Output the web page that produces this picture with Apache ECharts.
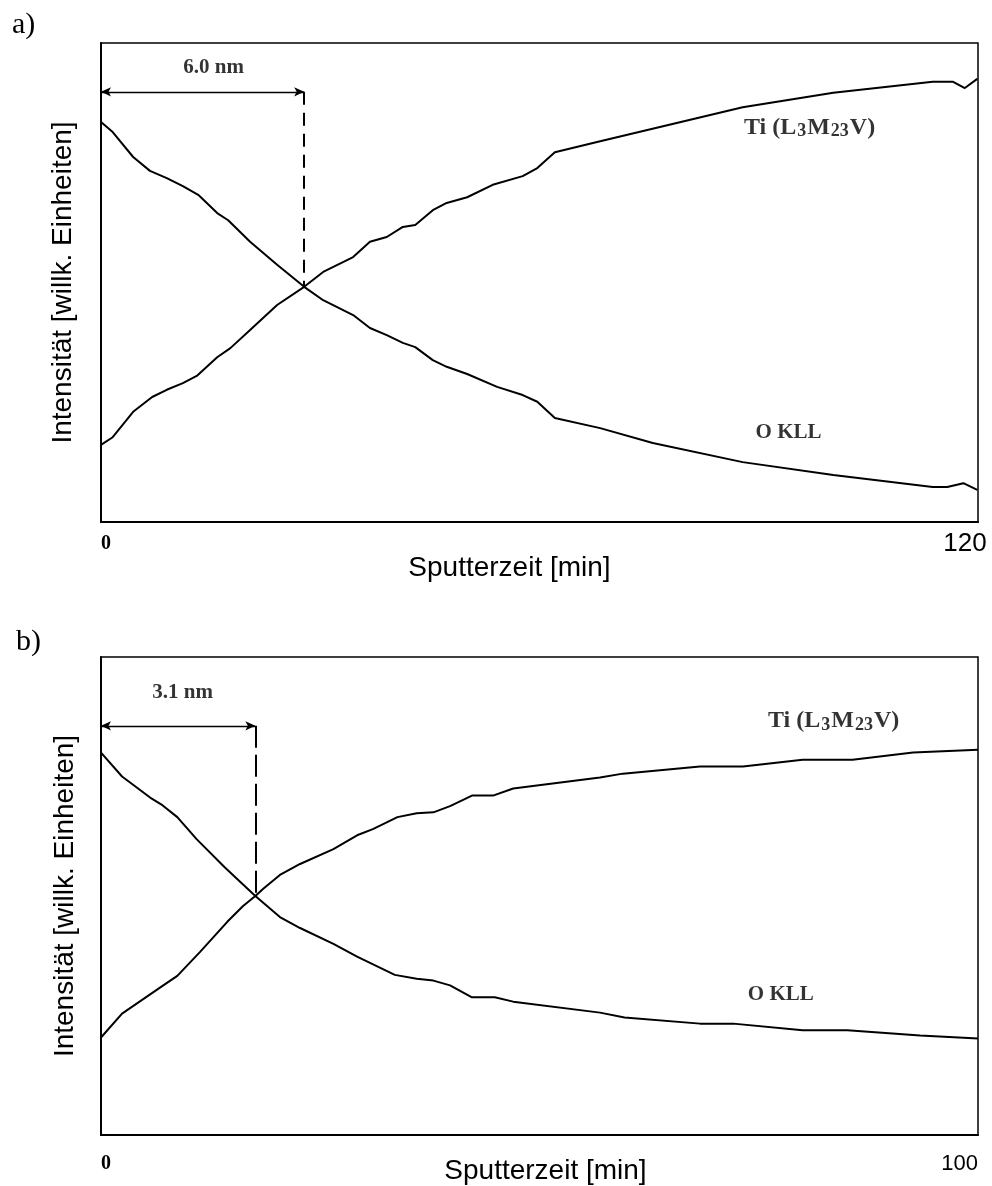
<!DOCTYPE html>
<html>
<head>
<meta charset="utf-8">
<script src="https://cdn.jsdelivr.net/npm/echarts@6/dist/echarts.min.js"></script>
<style>
  html, body { margin: 0; padding: 0; background: #fff; }
  #chart { width: 992px; height: 1186px; }
</style>
</head>
<body>
<div id="chart"></div>
<script>
// panel a: sputter time 0..120 min
const xMaxA = 120;
const tiA = [
  [0, 16.1], [1.6, 17.7], [4.4, 23.0], [7.0, 26.1], [9.0, 27.6], [11.2, 29.0], [13.1, 30.5],
  [15.9, 34.4], [17.7, 36.3], [20.4, 40.1], [24.1, 45.3], [27.8, 49.1], [30.4, 52.2],
  [34.5, 55.3], [36.8, 58.5], [39.1, 59.5], [41.3, 61.6], [43.0, 62.0], [45.4, 65.1],
  [47.3, 66.6], [50.1, 67.8], [53.6, 70.4], [57.7, 72.2], [59.7, 73.9], [62.1, 77.2],
  [68.3, 79.5], [87.8, 86.6], [100.2, 89.6], [113.8, 91.9], [116.6, 91.9], [118.2, 90.6],
  [119.9, 92.5]
];
const okllA = [
  [0, 83.5], [1.6, 81.4], [4.4, 76.2], [6.7, 73.3], [9.0, 71.8], [11.2, 70.1], [13.3, 68.3],
  [15.9, 64.5], [17.4, 63.0], [20.4, 58.5], [24.1, 53.7], [27.8, 49.1], [30.4, 46.3],
  [34.5, 43.2], [36.8, 40.5], [39.1, 39.0], [41.3, 37.4], [43.0, 36.5], [45.4, 33.8],
  [47.3, 32.4], [50.1, 30.9], [54.2, 28.2], [57.7, 26.5], [59.7, 25.1], [62.1, 21.7],
  [68.3, 19.6], [75.5, 16.5], [87.8, 12.5], [100.2, 9.8], [113.8, 7.3], [115.8, 7.3],
  [118.0, 8.1], [119.9, 6.7]
];
const markA = { time: 27.8, level: 89.8, cross: 49.1, text: '6.0 nm' };

// panel b: sputter time 0..100 min
const xMaxB = 100;
const tiB = [
  [0, 20.4], [2.4, 25.4], [7.1, 31.3], [8.7, 33.3], [11.3, 38.3], [14.4, 44.6], [16.2, 47.9],
  [17.6, 50.0], [18.5, 51.5], [20.4, 54.4], [22.7, 56.7], [26.5, 59.8], [29.2, 62.7],
  [31.0, 64.0], [33.8, 66.5], [36.0, 67.3], [37.9, 67.5], [39.8, 68.8], [42.3, 71.0],
  [44.7, 71.0], [47.0, 72.5], [56.9, 74.8], [59.5, 75.6], [68.3, 77.1], [73.2, 77.1],
  [80.0, 78.5], [85.7, 78.5], [92.6, 80.0], [100, 80.6]
];
const okllB = [
  [0, 80.0], [2.4, 75.0], [5.6, 70.6], [7.0, 69.0], [8.7, 66.5], [10.9, 61.9], [14.1, 56.0],
  [15.8, 53.1], [17.6, 50.0], [20.4, 45.6], [22.7, 43.3], [26.5, 40.0], [29.2, 37.3],
  [33.5, 33.5], [36.0, 32.7], [37.9, 32.3], [39.8, 31.3], [42.3, 28.8], [44.9, 28.8],
  [47.0, 27.9], [56.9, 25.6], [59.7, 24.6], [68.3, 23.3], [72.1, 23.3], [80.0, 21.9],
  [85.1, 21.9], [93.4, 20.8], [100, 20.2]
];
const markB = { time: 17.6, level: 85.6, cross: 50.0, text: '3.1 nm' };

const xName = 'Sputterzeit [min]';
const yName = 'Intensität [willk. Einheiten]';
const tiLabel = '{m|Ti (L}{s|3}{m|M}{s|23}{m|V)}';
const okLabel = 'O KLL';

const SERIF = '"Liberation Serif", "DejaVu Serif", serif';
const SANS = '"Liberation Sans", Arial, sans-serif';
const INK = '#000';

const chart = echarts.init(document.getElementById('chart'));

function xAxis(idx, max, tick, nameGap, namePad) {
  return {
    type: 'value', gridIndex: idx, min: 0, max: max, interval: max,
    name: xName, nameLocation: 'middle', nameGap: nameGap, nameMoveOverlap: false,
    nameTextStyle: { fontFamily: SANS, fontSize: 28, color: INK, verticalAlign: 'middle', padding: namePad },
    axisLine: { show: true, lineStyle: { color: INK, width: 2 } },
    axisTick: { show: false },
    splitLine: { show: false },
    axisLabel: {
      margin: tick.margin, alignMinLabel: 'left', alignMaxLabel: tick.maxAlign,
      formatter: (v) => (v === 0 ? '{z|0}' : '{e|' + v + '}'),
      rich: {
        z: { fontFamily: SERIF, fontWeight: 'bold', fontSize: 20, lineHeight: 28, color: INK },
        e: { fontFamily: SANS, fontSize: tick.size, lineHeight: 28, color: INK, padding: tick.pad }
      }
    }
  };
}

function yAxis(idx, nameGap) {
  return {
    type: 'value', gridIndex: idx, min: 0, max: 100,
    name: yName, nameLocation: 'middle', nameGap: nameGap, nameMoveOverlap: false,
    nameTextStyle: { fontFamily: SANS, fontSize: 28, color: INK, verticalAlign: 'middle' },
    axisLine: { show: true, lineStyle: { color: INK, width: 2 } },
    axisTick: { show: false },
    axisLabel: { show: false },
    splitLine: { show: false }
  };
}

function curve(idx, data, mark, dash) {
  const s = {
    type: 'line', xAxisIndex: idx, yAxisIndex: idx, data: data,
    showSymbol: false, smooth: false, silent: true,
    lineStyle: { color: INK, width: 2 }
  };
  if (mark) {
    s.markLine = {
      silent: true, animation: false,
      label: { show: false },
      symbolSize: [7, 10],
      data: [
        [
          { coord: [0, mark.level], symbol: 'arrow', lineStyle: { color: INK, width: 1.3, type: 'solid' } },
          { coord: [mark.time, mark.level], symbol: 'arrow' }
        ],
        [
          { coord: [mark.time, mark.level], symbol: 'none', lineStyle: { color: INK, width: 2, type: dash } },
          { coord: [mark.time, mark.cross], symbol: 'none' }
        ]
      ]
    };
  }
  return s;
}

function textAt(idx, pos, text, rich) {
  return {
    type: 'scatter', xAxisIndex: idx, yAxisIndex: idx, silent: true,
    data: [pos], symbolSize: 1, itemStyle: { color: 'rgba(0,0,0,0)' },
    label: {
      show: true, position: 'right', distance: 0, formatter: text,
      fontFamily: SERIF, fontWeight: 'bold', fontSize: 21, color: INK,
      rich: rich
    }
  };
}

const tiRich = {
  m: { fontFamily: SERIF, fontWeight: 'bold', fontSize: 24, lineHeight: 26, color: INK },
  s: { fontFamily: SERIF, fontWeight: 'bold', fontSize: 18, lineHeight: 16, color: INK,
       verticalAlign: 'bottom', padding: [15, 1, 0, 1] }
};

chart.setOption({
  animation: false,
  backgroundColor: '#fff',
  title: [
    { text: 'a)', left: 7, top: 5, textStyle: { fontFamily: SERIF, fontWeight: 'normal', fontSize: 30, color: INK } },
    { text: 'b)', left: 11, top: 622, textStyle: { fontFamily: SERIF, fontWeight: 'normal', fontSize: 30, color: INK } }
  ],
  grid: [
    { left: 101, top: 43, width: 877, height: 479, show: true, borderColor: INK, borderWidth: 1.5, containLabel: false, outerBoundsMode: 'none' },
    { left: 101, top: 657, width: 877, height: 478, show: true, borderColor: INK, borderWidth: 1.5, containLabel: false, outerBoundsMode: 'none' }
  ],
  xAxis: [
    xAxis(0, xMaxA, { size: 26, margin: 8, maxAlign: 'center', pad: [0, 26, 0, 0] }, 46, [0, 60, 0, 0]),
    xAxis(1, xMaxB, { size: 22, margin: 15, maxAlign: 'right', pad: [0, 0, 0, 0] }, 36, [0, 0, 0, 12])
  ],
  yAxis: [yAxis(0, 38), yAxis(1, 36)],
  series: [
    curve(0, tiA, markA, [13, 8]),
    curve(0, okllA, null),
    curve(1, tiB, markB, [22, 7]),
    curve(1, okllB, null),
    textAt(0, [11.2, 94.8], markA.text, null),
    textAt(0, [87.9, 82.3], tiLabel, tiRich),
    textAt(0, [89.5, 18.6], okLabel, null),
    textAt(1, [5.8, 92.5], markB.text, null),
    textAt(1, [76.0, 86.6], tiLabel, tiRich),
    textAt(1, [73.7, 29.4], okLabel, null)
  ]
});

window.addEventListener('resize', () => chart.resize());
</script>
</body>
</html>
